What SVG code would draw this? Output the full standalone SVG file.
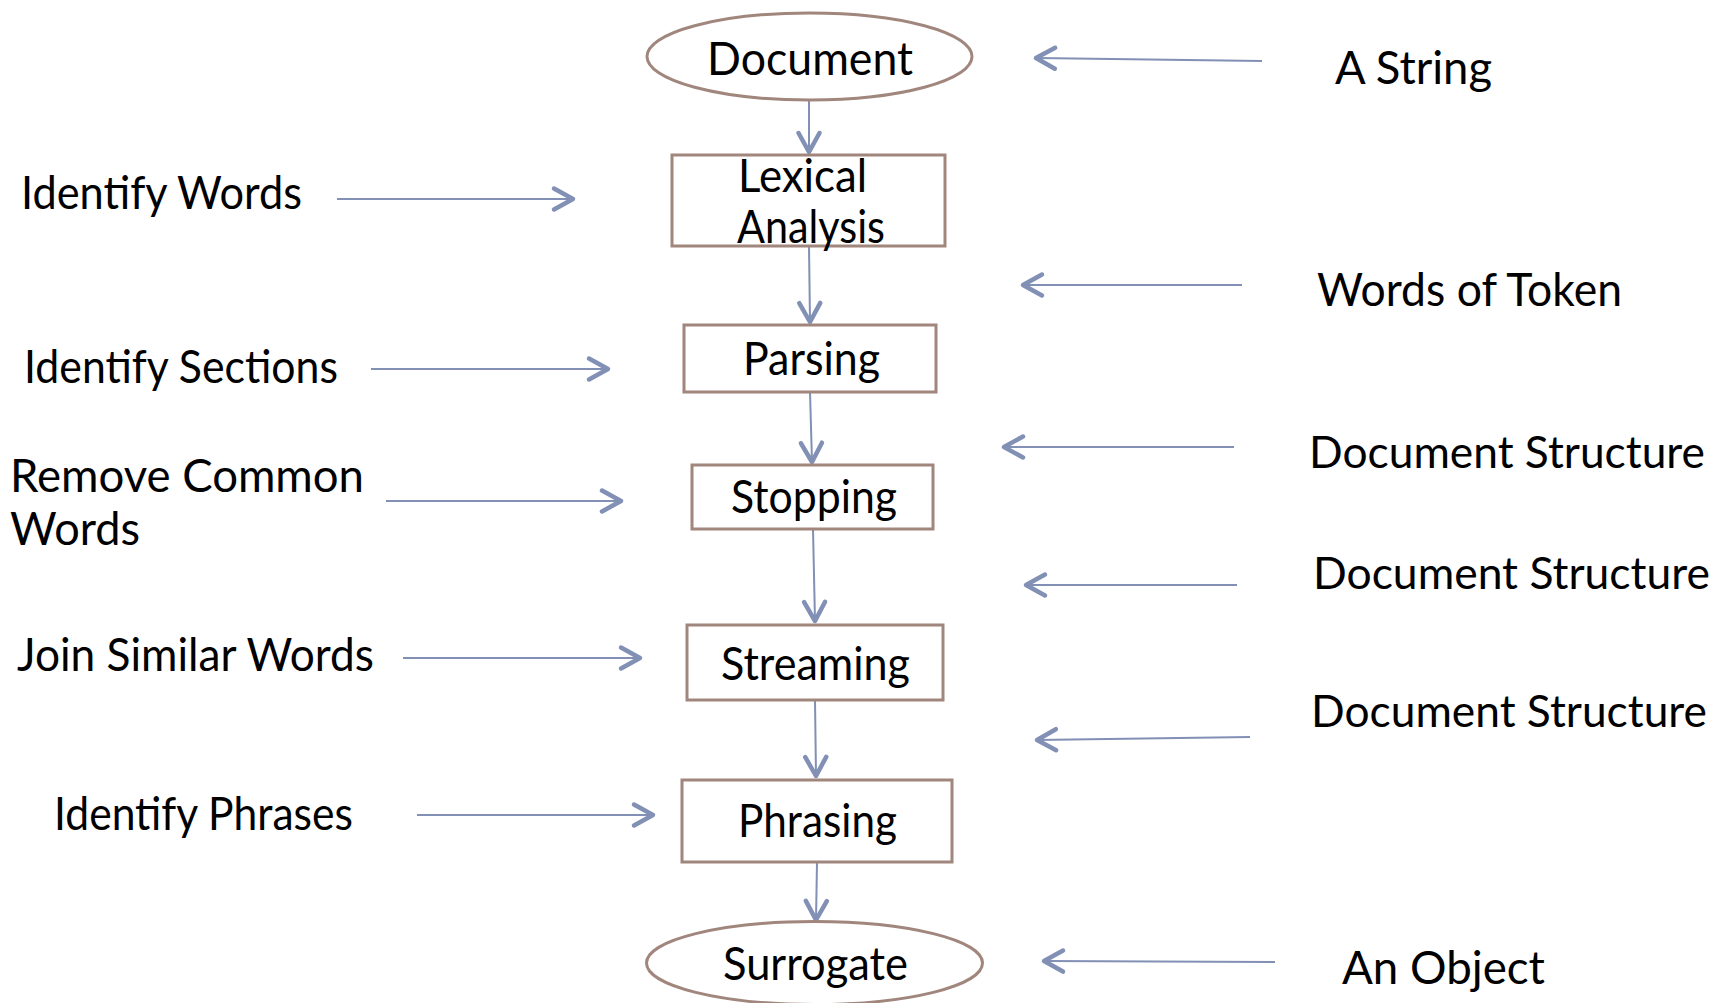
<svg xmlns="http://www.w3.org/2000/svg" width="1722" height="1003" viewBox="0 0 1722 1003">
  <style>
    .shape { fill: #ffffff; stroke: #a0867c; stroke-width: 3; }
    .lbl { font-family: "Lato", "Open Sans", "Liberation Sans", sans-serif; font-size: 47px; fill: #000000; }
    .edge { font-size: 44px; }
    .conn { fill: none; stroke: #8190b4; stroke-width: 2; marker-end: url(#arrow); }
  </style>
  <defs>
    <marker id="arrow" markerUnits="userSpaceOnUse" viewBox="-24 -14 28 28" markerWidth="28" markerHeight="28" refX="0" refY="0" orient="auto" overflow="visible">
      <path d="M-19,-10.5 L0,0 L-19,10.5" fill="none" stroke="#8190b4" stroke-width="4.5" stroke-linecap="round" stroke-linejoin="round"/>
    </marker>
  </defs>
  <rect width="1722" height="1003" fill="#ffffff"/>

  <!-- connectors -->
  <g id="connectors">
    <!-- main pipeline -->
    <path class="conn" d="M809,101 L809,152"/>
    <path class="conn" d="M809,246 L810,322"/>
    <path class="conn" d="M810,392 L812,462"/>
    <path class="conn" d="M813,529 L815,621"/>
    <path class="conn" d="M815,700 L816,776"/>
    <path class="conn" d="M817,862 L816,920"/>
    <!-- actions, left side -->
    <path class="conn" d="M337,199 L573,199"/>
    <path class="conn" d="M371,369 L608,369"/>
    <path class="conn" d="M386,501 L621,501"/>
    <path class="conn" d="M403,658 L640,658"/>
    <path class="conn" d="M417,815 L653,815"/>
    <!-- data types, right side -->
    <path class="conn" d="M1262,61 L1036,58"/>
    <path class="conn" d="M1242,285 L1023,285"/>
    <path class="conn" d="M1234,447 L1004,447"/>
    <path class="conn" d="M1237,585 L1026,585"/>
    <path class="conn" d="M1250,737 L1037,740"/>
    <path class="conn" d="M1275,962 L1044,961"/>
  </g>

  <!-- pipeline nodes -->
  <g id="document">
    <ellipse class="shape" cx="809.5" cy="56.5" rx="162.5" ry="43.5"/>
    <text class="lbl" x="707" y="75" textLength="206" lengthAdjust="spacingAndGlyphs">Document</text>
  </g>
  <g id="lexical-analysis">
    <rect class="shape" x="672" y="155" width="273" height="91"/>
    <text class="lbl" x="738" y="192" textLength="129" lengthAdjust="spacingAndGlyphs">Lexical</text>
    <text class="lbl" x="737" y="243" textLength="148" lengthAdjust="spacingAndGlyphs">Analysis</text>
  </g>
  <g id="parsing">
    <rect class="shape" x="684" y="325" width="252" height="67"/>
    <text class="lbl" x="743" y="375" textLength="137" lengthAdjust="spacingAndGlyphs">Parsing</text>
  </g>
  <g id="stopping">
    <rect class="shape" x="692" y="465" width="241" height="64"/>
    <text class="lbl" x="731" y="513" textLength="166" lengthAdjust="spacingAndGlyphs">Stopping</text>
  </g>
  <g id="streaming">
    <rect class="shape" x="687" y="625" width="256" height="75"/>
    <text class="lbl" x="721" y="680" textLength="189" lengthAdjust="spacingAndGlyphs">Streaming</text>
  </g>
  <g id="phrasing">
    <rect class="shape" x="682" y="780" width="270" height="82"/>
    <text class="lbl" x="738" y="837" textLength="159" lengthAdjust="spacingAndGlyphs">Phrasing</text>
  </g>
  <g id="surrogate">
    <ellipse class="shape" cx="814.5" cy="963" rx="168" ry="41.5"/>
    <text class="lbl" x="723" y="980" textLength="185" lengthAdjust="spacingAndGlyphs">Surrogate</text>
  </g>

  <!-- action labels -->
  <g id="identify-words">
    <text class="lbl" x="21" y="209" textLength="281" lengthAdjust="spacingAndGlyphs">Identify Words</text>
  </g>
  <g id="identify-sections">
    <text class="lbl" x="24" y="383" textLength="314" lengthAdjust="spacingAndGlyphs">Identify Sections</text>
  </g>
  <g id="remove-common-words">
    <text class="lbl" x="10" y="492" textLength="354" lengthAdjust="spacingAndGlyphs">Remove Common</text>
    <text class="lbl" x="10" y="545" textLength="130" lengthAdjust="spacingAndGlyphs">Words</text>
  </g>
  <g id="join-similar-words">
    <text class="lbl" x="17" y="671" textLength="357" lengthAdjust="spacingAndGlyphs">Join Similar Words</text>
  </g>
  <g id="identify-phrases">
    <text class="lbl" x="54" y="830" textLength="299" lengthAdjust="spacingAndGlyphs">Identify Phrases</text>
  </g>

  <!-- data type labels -->
  <g id="a-string">
    <text class="lbl" x="1335" y="84" textLength="157" lengthAdjust="spacingAndGlyphs">A String</text>
  </g>
  <g id="words-of-token">
    <text class="lbl" x="1317" y="306" textLength="305" lengthAdjust="spacingAndGlyphs">Words of Token</text>
  </g>
  <g id="document-structure-1">
    <text class="lbl edge" x="1309" y="468" textLength="396" lengthAdjust="spacingAndGlyphs">Document Structure</text>
  </g>
  <g id="document-structure-2">
    <text class="lbl edge" x="1313" y="589" textLength="397" lengthAdjust="spacingAndGlyphs">Document Structure</text>
  </g>
  <g id="document-structure-3">
    <text class="lbl edge" x="1311" y="727" textLength="396" lengthAdjust="spacingAndGlyphs">Document Structure</text>
  </g>
  <g id="an-object">
    <text class="lbl" x="1342" y="984" textLength="203" lengthAdjust="spacingAndGlyphs">An Object</text>
  </g>
</svg>
